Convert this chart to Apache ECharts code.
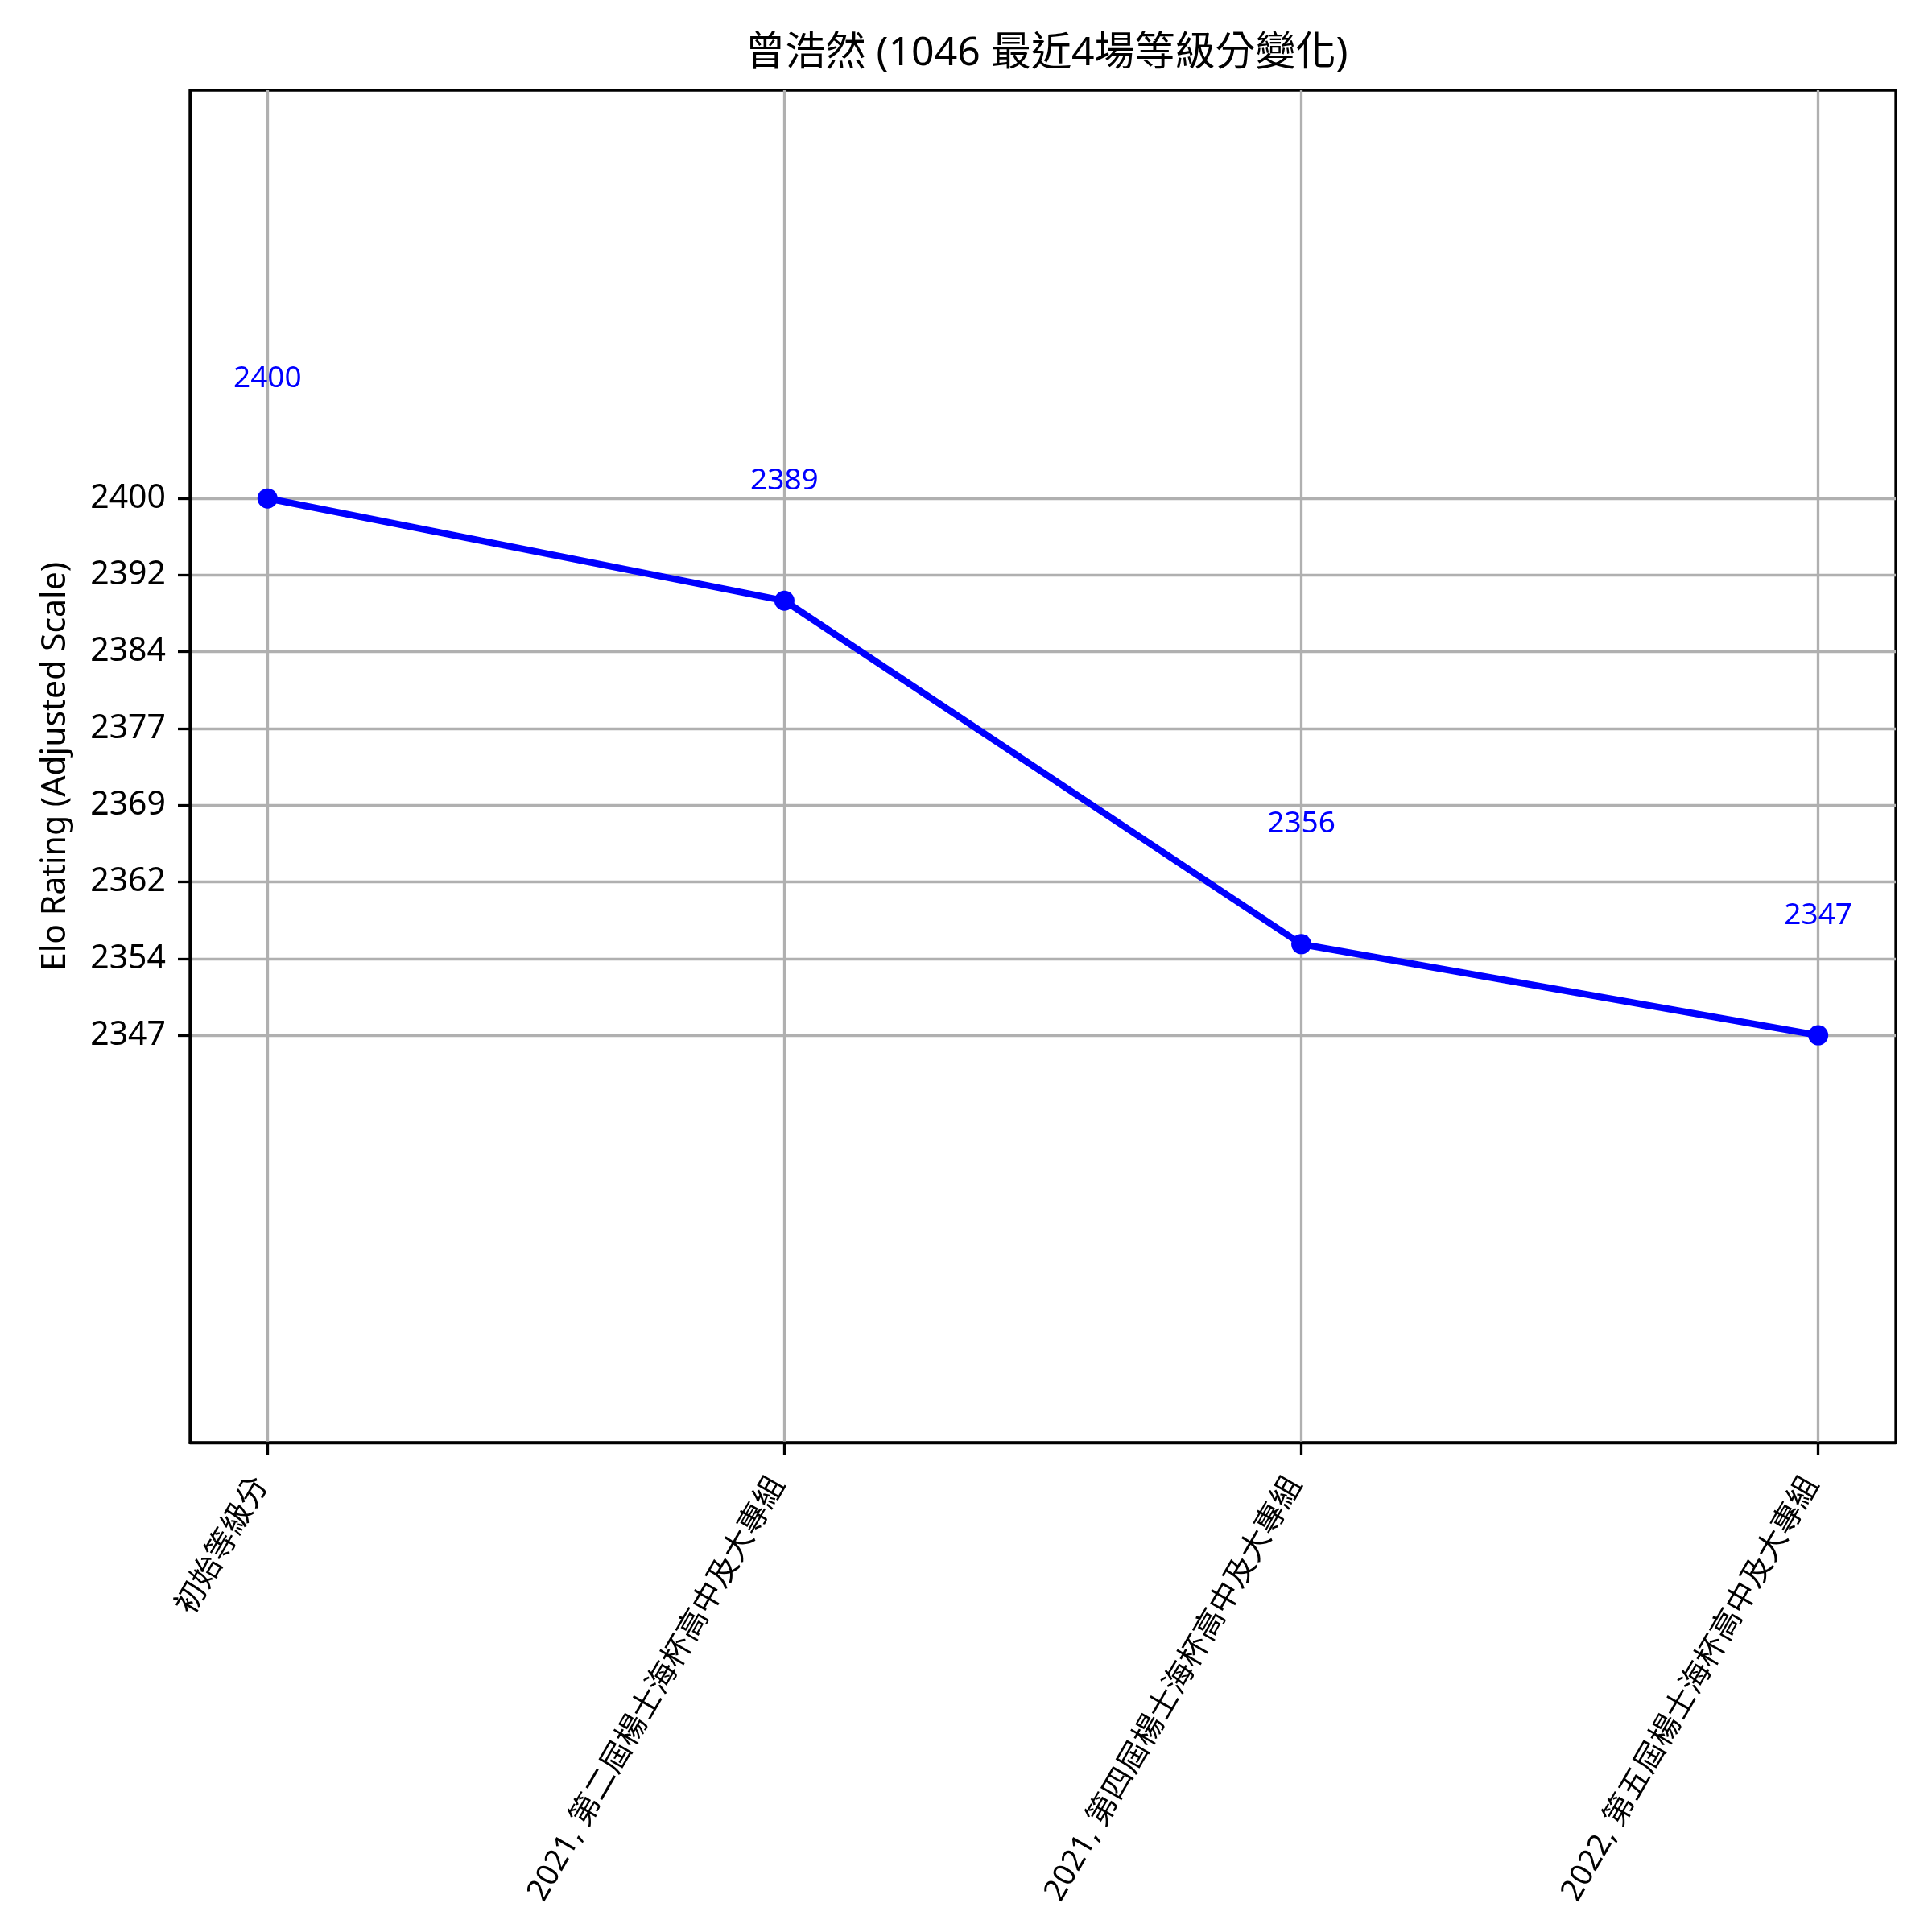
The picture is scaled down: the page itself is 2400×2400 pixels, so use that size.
<!DOCTYPE html>
<html>
<head>
<meta charset="utf-8">
<script src="https://cdn.jsdelivr.net/npm/echarts@6/dist/echarts.min.js"></script>
<style>html,body{margin:0;padding:0;background:#fff}#c{width:2400px;height:2400px}</style>
</head>
<body>
<div id="c"></div>
<script>
const titleText = '曾浩然 (1046 最近4場等級分變化)';
const categories = ['初始等級分', '2021, 第二屆楊士海杯高中及大專組', '2021, 第四屆楊士海杯高中及大專組', '2022, 第五屆楊士海杯高中及大專組'];
const ratings = [2400, 2389.9, 2356, 2347];
const xTickValues = [0, 1, 2, 3];
const yTickValues = [2347, 2354.571, 2362.143, 2369.714, 2377.286, 2384.857, 2392.429, 2400];
const yTickLabels = ['2347', '2354', '2362', '2369', '2377', '2384', '2392', '2400'];

const FONT = '"Noto Sans", "Noto Sans CJK TC", sans-serif';
const chart = echarts.init(document.getElementById('c'), null, {renderer: 'canvas'});

function yLabel(v) {
  let best = 0, bd = Infinity;
  yTickValues.forEach((t, i) => { const d = Math.abs(t - v); if (d < bd) { bd = d; best = i; } });
  return yTickLabels[best];
}

chart.setOption({
  animation: false,
  backgroundColor: '#fff',
  title: {
    text: titleText,
    left: 1295, textAlign: 'center', top: 37,
    textStyle: {fontFamily: FONT, fontSize: 50, fontWeight: 'normal', color: '#000'}
  },
  grid: {left: 236, top: 112, width: 2119, height: 1680, show: true, borderColor: '#000', borderWidth: 3.3, backgroundColor: 'transparent'},
  xAxis: {
    type: 'value', min: -0.15, max: 3.15,
    axisLine: {show: true, onZero: false, lineStyle: {color: '#000', width: 3.3}},
    axisTick: {show: true, customValues: xTickValues, length: 15, lineStyle: {color: '#000', width: 3.3}},
    axisLabel: {show: true, customValues: xTickValues, rotate: 60, margin: 32,
      padding: [0, 16, 0, 0],
      fontFamily: FONT, fontSize: 38, color: '#000',
      formatter: v => categories[Math.round(v)]},
    splitLine: {show: true, lineStyle: {color: '#b0b0b0', width: 3.3}}
  },
  yAxis: {
    type: 'value', min: 2306.8, max: 2440.3,
    name: 'Elo Rating (Adjusted Scale)', nameLocation: 'middle', nameRotate: 90, nameGap: 146,
    nameTextStyle: {fontFamily: FONT, fontSize: 41, color: '#000'},
    axisLine: {show: true, onZero: false, lineStyle: {color: '#000', width: 3.3}},
    axisTick: {show: true, customValues: yTickValues, length: 15, lineStyle: {color: '#000', width: 3.3}},
    axisLabel: {show: true, customValues: yTickValues, margin: 30,
      fontFamily: FONT, fontSize: 41, color: '#000', formatter: v => yLabel(v)},
    splitLine: {show: true, lineStyle: {color: '#b0b0b0', width: 3.3}}
  },
  series: [{
    type: 'line',
    data: ratings.map((r, i) => [xTickValues[i], r]),
    symbol: 'circle', symbolSize: 25,
    lineStyle: {color: '#0000ff', width: 8.3},
    itemStyle: {color: '#0000ff'},
    label: {show: true, position: 'top', distance: 118,
      fontFamily: FONT, fontSize: 37, color: '#0000ff',
      formatter: p => String(Math.floor(p.value[1]))}
  }]
});
</script>
</body>
</html>
